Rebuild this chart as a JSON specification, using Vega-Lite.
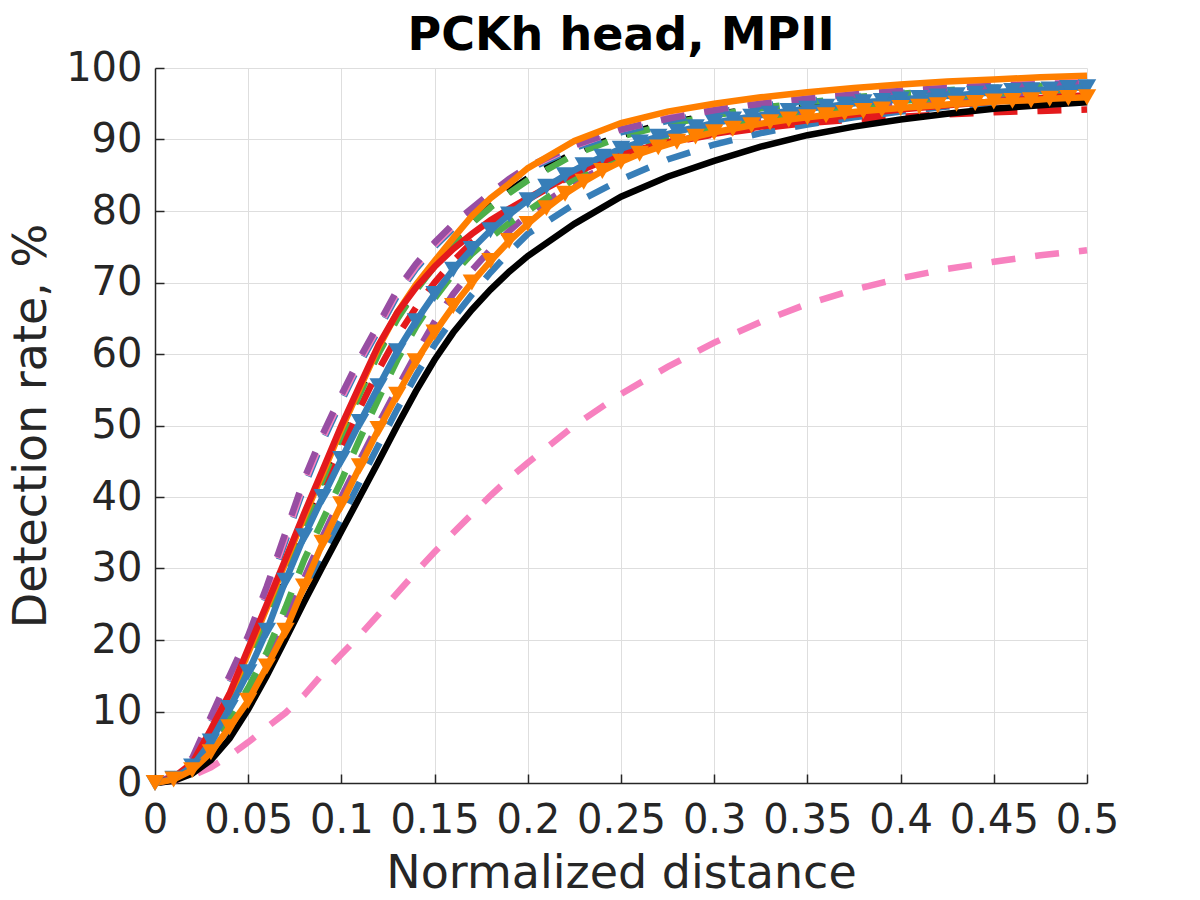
{
  "$schema": "https://vega.github.io/schema/vega-lite/v6.json",
  "width": 932,
  "height": 715,
  "autosize": {"type": "none"},
  "padding": {"left": 155, "top": 68, "right": 113, "bottom": 117},
  "background": "white",
  "title": {
    "text": "PCKh head, MPII",
    "font": "DejaVu Sans",
    "fontSize": 46,
    "fontWeight": "bold",
    "color": "#000000",
    "anchor": "middle",
    "offset": -12
  },
  "datasets": {
    "curves": [
      {"s":"pk2","x":0,"y":0},{"s":"pk2","x":0.01,"y":0.3},{"s":"pk2","x":0.02,"y":1.0},{"s":"pk2","x":0.03,"y":2.2},{"s":"pk2","x":0.04,"y":3.8},{"s":"pk2","x":0.05,"y":5.7},{"s":"pk2","x":0.06,"y":7.8},{"s":"pk2","x":0.07,"y":9.8},{"s":"pk2","x":0.08,"y":12.3},{"s":"pk2","x":0.09,"y":15.3},{"s":"pk2","x":0.1,"y":18},{"s":"pk2","x":0.11,"y":20.7},{"s":"pk2","x":0.12,"y":23.6},{"s":"pk2","x":0.13,"y":26.6},{"s":"pk2","x":0.14,"y":29.5},{"s":"pk2","x":0.15,"y":32.3},{"s":"pk2","x":0.16,"y":35},{"s":"pk2","x":0.17,"y":37.6},{"s":"pk2","x":0.18,"y":40.2},{"s":"pk2","x":0.19,"y":42.6},{"s":"pk2","x":0.2,"y":44.8},{"s":"pk2","x":0.225,"y":50},{"s":"pk2","x":0.25,"y":54.4},{"s":"pk2","x":0.275,"y":58.2},{"s":"pk2","x":0.3,"y":61.6},{"s":"pk2","x":0.325,"y":64.5},{"s":"pk2","x":0.35,"y":67},{"s":"pk2","x":0.375,"y":69},{"s":"pk2","x":0.4,"y":70.6},{"s":"pk2","x":0.425,"y":71.9},{"s":"pk2","x":0.45,"y":72.9},{"s":"pk2","x":0.475,"y":73.8},{"s":"pk2","x":0.5,"y":74.5},

      {"s":"r2","x":0,"y":0},{"s":"r2","x":0.01,"y":0.7},{"s":"r2","x":0.02,"y":2.5},{"s":"r2","x":0.03,"y":6.5},{"s":"r2","x":0.04,"y":11.3},{"s":"r2","x":0.05,"y":17},{"s":"r2","x":0.06,"y":23},{"s":"r2","x":0.07,"y":29.5},{"s":"r2","x":0.08,"y":35.8},{"s":"r2","x":0.09,"y":41.6},{"s":"r2","x":0.1,"y":47},{"s":"r2","x":0.11,"y":52.5},{"s":"r2","x":0.12,"y":57.8},{"s":"r2","x":0.13,"y":62.5},{"s":"r2","x":0.14,"y":66.5},{"s":"r2","x":0.15,"y":70},{"s":"r2","x":0.16,"y":73},{"s":"r2","x":0.17,"y":75.6},{"s":"r2","x":0.18,"y":77.9},{"s":"r2","x":0.19,"y":79.9},{"s":"r2","x":0.2,"y":81.6},{"s":"r2","x":0.225,"y":85.2},{"s":"r2","x":0.25,"y":87.8},{"s":"r2","x":0.275,"y":89.5},{"s":"r2","x":0.3,"y":90.7},{"s":"r2","x":0.325,"y":91.6},{"s":"r2","x":0.35,"y":92.3},{"s":"r2","x":0.375,"y":92.8},{"s":"r2","x":0.4,"y":93.2},{"s":"r2","x":0.425,"y":93.5},{"s":"r2","x":0.45,"y":93.8},{"s":"r2","x":0.475,"y":94.0},{"s":"r2","x":0.5,"y":94.2},

      {"s":"b3","x":0,"y":0},{"s":"b3","x":0.01,"y":0.4},{"s":"b3","x":0.02,"y":1.6},{"s":"b3","x":0.03,"y":3.8},{"s":"b3","x":0.04,"y":7.0},{"s":"b3","x":0.05,"y":11.0},{"s":"b3","x":0.06,"y":15.8},{"s":"b3","x":0.07,"y":21},{"s":"b3","x":0.08,"y":26.5},{"s":"b3","x":0.09,"y":31.8},{"s":"b3","x":0.1,"y":37},{"s":"b3","x":0.11,"y":42.2},{"s":"b3","x":0.12,"y":47.3},{"s":"b3","x":0.13,"y":52.3},{"s":"b3","x":0.14,"y":57},{"s":"b3","x":0.15,"y":61.3},{"s":"b3","x":0.16,"y":65},{"s":"b3","x":0.17,"y":68.3},{"s":"b3","x":0.18,"y":71.4},{"s":"b3","x":0.19,"y":74.2},{"s":"b3","x":0.2,"y":76.8},{"s":"b3","x":0.225,"y":81.0},{"s":"b3","x":0.25,"y":84.4},{"s":"b3","x":0.275,"y":87.2},{"s":"b3","x":0.3,"y":89.3},{"s":"b3","x":0.325,"y":90.9},{"s":"b3","x":0.35,"y":92.1},{"s":"b3","x":0.375,"y":93.1},{"s":"b3","x":0.4,"y":93.9},{"s":"b3","x":0.425,"y":94.6},{"s":"b3","x":0.45,"y":95.1},{"s":"b3","x":0.475,"y":95.6},{"s":"b3","x":0.5,"y":96.0},

      {"s":"p3","x":0,"y":0},{"s":"p3","x":0.01,"y":0.5},{"s":"p3","x":0.02,"y":1.9},{"s":"p3","x":0.03,"y":4.6},{"s":"p3","x":0.04,"y":8.2},{"s":"p3","x":0.05,"y":12.3},{"s":"p3","x":0.06,"y":17.2},{"s":"p3","x":0.07,"y":22.6},{"s":"p3","x":0.08,"y":28.6},{"s":"p3","x":0.09,"y":34.5},{"s":"p3","x":0.1,"y":40},{"s":"p3","x":0.11,"y":45.2},{"s":"p3","x":0.12,"y":50.3},{"s":"p3","x":0.13,"y":55.2},{"s":"p3","x":0.14,"y":60},{"s":"p3","x":0.15,"y":64.5},{"s":"p3","x":0.16,"y":68.4},{"s":"p3","x":0.17,"y":71.7},{"s":"p3","x":0.18,"y":74.6},{"s":"p3","x":0.19,"y":77.2},{"s":"p3","x":0.2,"y":79.5},{"s":"p3","x":0.225,"y":84.0},{"s":"p3","x":0.25,"y":87.3},{"s":"p3","x":0.275,"y":89.6},{"s":"p3","x":0.3,"y":91.3},{"s":"p3","x":0.325,"y":92.6},{"s":"p3","x":0.35,"y":93.6},{"s":"p3","x":0.375,"y":94.4},{"s":"p3","x":0.4,"y":95.1},{"s":"p3","x":0.425,"y":95.6},{"s":"p3","x":0.45,"y":96.0},{"s":"p3","x":0.475,"y":96.4},{"s":"p3","x":0.5,"y":96.7},

      {"s":"g2","x":0,"y":0},{"s":"g2","x":0.01,"y":0.5},{"s":"g2","x":0.02,"y":2},{"s":"g2","x":0.03,"y":5},{"s":"g2","x":0.04,"y":8.8},{"s":"g2","x":0.05,"y":13.3},{"s":"g2","x":0.06,"y":18.3},{"s":"g2","x":0.07,"y":24.5},{"s":"g2","x":0.08,"y":31.2},{"s":"g2","x":0.09,"y":36.8},{"s":"g2","x":0.1,"y":42.3},{"s":"g2","x":0.11,"y":48.2},{"s":"g2","x":0.12,"y":53.8},{"s":"g2","x":0.13,"y":59.2},{"s":"g2","x":0.14,"y":63.8},{"s":"g2","x":0.15,"y":67.8},{"s":"g2","x":0.16,"y":71.2},{"s":"g2","x":0.17,"y":74},{"s":"g2","x":0.18,"y":76.3},{"s":"g2","x":0.19,"y":78.3},{"s":"g2","x":0.2,"y":80.0},{"s":"g2","x":0.225,"y":84.5},{"s":"g2","x":0.25,"y":87.8},{"s":"g2","x":0.275,"y":90.0},{"s":"g2","x":0.3,"y":91.6},{"s":"g2","x":0.325,"y":92.9},{"s":"g2","x":0.35,"y":93.9},{"s":"g2","x":0.375,"y":94.7},{"s":"g2","x":0.4,"y":95.4},{"s":"g2","x":0.425,"y":95.9},{"s":"g2","x":0.45,"y":96.4},{"s":"g2","x":0.475,"y":96.8},{"s":"g2","x":0.5,"y":97.1},

      {"s":"k2","x":0,"y":0},{"s":"k2","x":0.01,"y":0.6},{"s":"k2","x":0.02,"y":2.3},{"s":"k2","x":0.03,"y":6.5},{"s":"k2","x":0.04,"y":11.5},{"s":"k2","x":0.05,"y":17.6},{"s":"k2","x":0.06,"y":24},{"s":"k2","x":0.07,"y":30.3},{"s":"k2","x":0.08,"y":36.7},{"s":"k2","x":0.09,"y":42.8},{"s":"k2","x":0.1,"y":49},{"s":"k2","x":0.11,"y":54.8},{"s":"k2","x":0.12,"y":60.4},{"s":"k2","x":0.13,"y":65.2},{"s":"k2","x":0.14,"y":69.2},{"s":"k2","x":0.15,"y":72.6},{"s":"k2","x":0.16,"y":75.8},{"s":"k2","x":0.17,"y":78.6},{"s":"k2","x":0.18,"y":80.8},{"s":"k2","x":0.19,"y":82.8},{"s":"k2","x":0.2,"y":84.6},{"s":"k2","x":0.225,"y":88.2},{"s":"k2","x":0.25,"y":90.6},{"s":"k2","x":0.275,"y":92.3},{"s":"k2","x":0.3,"y":93.5},{"s":"k2","x":0.325,"y":94.4},{"s":"k2","x":0.35,"y":95.1},{"s":"k2","x":0.375,"y":95.7},{"s":"k2","x":0.4,"y":96.2},{"s":"k2","x":0.425,"y":96.6},{"s":"k2","x":0.45,"y":96.9},{"s":"k2","x":0.475,"y":97.2},{"s":"k2","x":0.5,"y":97.4},

      {"s":"g1","x":0,"y":0},{"s":"g1","x":0.01,"y":0.5},{"s":"g1","x":0.02,"y":2.2},{"s":"g1","x":0.03,"y":6.3},{"s":"g1","x":0.04,"y":11.2},{"s":"g1","x":0.05,"y":17.3},{"s":"g1","x":0.06,"y":23.7},{"s":"g1","x":0.07,"y":30},{"s":"g1","x":0.08,"y":36.4},{"s":"g1","x":0.09,"y":42.5},{"s":"g1","x":0.1,"y":48.7},{"s":"g1","x":0.11,"y":54.5},{"s":"g1","x":0.12,"y":60.1},{"s":"g1","x":0.13,"y":64.9},{"s":"g1","x":0.14,"y":68.9},{"s":"g1","x":0.15,"y":72.3},{"s":"g1","x":0.16,"y":75.5},{"s":"g1","x":0.17,"y":78.3},{"s":"g1","x":0.18,"y":80.5},{"s":"g1","x":0.19,"y":82.5},{"s":"g1","x":0.2,"y":84.3},{"s":"g1","x":0.225,"y":87.9},{"s":"g1","x":0.25,"y":90.4},{"s":"g1","x":0.275,"y":92.1},{"s":"g1","x":0.3,"y":93.4},{"s":"g1","x":0.325,"y":94.4},{"s":"g1","x":0.35,"y":95.2},{"s":"g1","x":0.375,"y":95.9},{"s":"g1","x":0.4,"y":96.4},{"s":"g1","x":0.425,"y":96.9},{"s":"g1","x":0.45,"y":97.2},{"s":"g1","x":0.475,"y":97.5},{"s":"g1","x":0.5,"y":97.7},

      {"s":"b2","x":0,"y":0},{"s":"b2","x":0.01,"y":0.8},{"s":"b2","x":0.02,"y":3.0},{"s":"b2","x":0.03,"y":8.4},{"s":"b2","x":0.04,"y":14},{"s":"b2","x":0.05,"y":19.6},{"s":"b2","x":0.06,"y":26.4},{"s":"b2","x":0.07,"y":33.9},{"s":"b2","x":0.08,"y":41.4},{"s":"b2","x":0.09,"y":47.8},{"s":"b2","x":0.1,"y":53.4},{"s":"b2","x":0.11,"y":58.7},{"s":"b2","x":0.12,"y":63.4},{"s":"b2","x":0.13,"y":68.2},{"s":"b2","x":0.14,"y":71.9},{"s":"b2","x":0.15,"y":75},{"s":"b2","x":0.16,"y":77.6},{"s":"b2","x":0.17,"y":79.9},{"s":"b2","x":0.18,"y":82.0},{"s":"b2","x":0.19,"y":84.0},{"s":"b2","x":0.2,"y":85.8},{"s":"b2","x":0.225,"y":88.8},{"s":"b2","x":0.25,"y":91.0},{"s":"b2","x":0.275,"y":92.6},{"s":"b2","x":0.3,"y":93.8},{"s":"b2","x":0.325,"y":94.7},{"s":"b2","x":0.35,"y":95.4},{"s":"b2","x":0.375,"y":96.0},{"s":"b2","x":0.4,"y":96.5},{"s":"b2","x":0.425,"y":96.9},{"s":"b2","x":0.45,"y":97.2},{"s":"b2","x":0.475,"y":97.4},{"s":"b2","x":0.5,"y":97.6},

      {"s":"pk1","x":0,"y":0},{"s":"pk1","x":0.01,"y":0.9},{"s":"pk1","x":0.02,"y":3.2},{"s":"pk1","x":0.03,"y":8.8},{"s":"pk1","x":0.04,"y":14.4},{"s":"pk1","x":0.05,"y":20},{"s":"pk1","x":0.06,"y":26.9},{"s":"pk1","x":0.07,"y":34.4},{"s":"pk1","x":0.08,"y":41.9},{"s":"pk1","x":0.09,"y":48.3},{"s":"pk1","x":0.1,"y":53.8},{"s":"pk1","x":0.11,"y":59.1},{"s":"pk1","x":0.12,"y":63.8},{"s":"pk1","x":0.13,"y":68.6},{"s":"pk1","x":0.14,"y":72.2},{"s":"pk1","x":0.15,"y":75.3},{"s":"pk1","x":0.16,"y":77.9},{"s":"pk1","x":0.17,"y":80.2},{"s":"pk1","x":0.18,"y":82.3},{"s":"pk1","x":0.19,"y":84.3},{"s":"pk1","x":0.2,"y":86.0},{"s":"pk1","x":0.225,"y":89.1},{"s":"pk1","x":0.25,"y":91.4},{"s":"pk1","x":0.275,"y":93.0},{"s":"pk1","x":0.3,"y":94.2},{"s":"pk1","x":0.325,"y":95.1},{"s":"pk1","x":0.35,"y":95.8},{"s":"pk1","x":0.375,"y":96.4},{"s":"pk1","x":0.4,"y":96.9},{"s":"pk1","x":0.425,"y":97.3},{"s":"pk1","x":0.45,"y":97.6},{"s":"pk1","x":0.475,"y":97.9},{"s":"pk1","x":0.5,"y":98.1},

      {"s":"p1","x":0,"y":0},{"s":"p1","x":0.01,"y":1.0},{"s":"p1","x":0.02,"y":3.5},{"s":"p1","x":0.03,"y":9.3},{"s":"p1","x":0.04,"y":15},{"s":"p1","x":0.05,"y":20.6},{"s":"p1","x":0.06,"y":27.5},{"s":"p1","x":0.07,"y":35},{"s":"p1","x":0.08,"y":42.5},{"s":"p1","x":0.09,"y":48.8},{"s":"p1","x":0.1,"y":54.3},{"s":"p1","x":0.11,"y":59.5},{"s":"p1","x":0.12,"y":64.2},{"s":"p1","x":0.13,"y":69},{"s":"p1","x":0.14,"y":72.6},{"s":"p1","x":0.15,"y":75.6},{"s":"p1","x":0.16,"y":78.2},{"s":"p1","x":0.17,"y":80.4},{"s":"p1","x":0.18,"y":82.5},{"s":"p1","x":0.19,"y":84.5},{"s":"p1","x":0.2,"y":86.2},{"s":"p1","x":0.225,"y":89.2},{"s":"p1","x":0.25,"y":91.4},{"s":"p1","x":0.275,"y":92.9},{"s":"p1","x":0.3,"y":94.1},{"s":"p1","x":0.325,"y":95.0},{"s":"p1","x":0.35,"y":95.7},{"s":"p1","x":0.375,"y":96.3},{"s":"p1","x":0.4,"y":96.8},{"s":"p1","x":0.425,"y":97.2},{"s":"p1","x":0.45,"y":97.5},{"s":"p1","x":0.475,"y":97.7},{"s":"p1","x":0.5,"y":97.9},

      {"s":"k","x":0,"y":0},{"s":"k","x":0.01,"y":0.3},{"s":"k","x":0.02,"y":1.3},{"s":"k","x":0.03,"y":3.2},{"s":"k","x":0.04,"y":6.2},{"s":"k","x":0.05,"y":10.3},{"s":"k","x":0.06,"y":15},{"s":"k","x":0.07,"y":20.1},{"s":"k","x":0.08,"y":25.3},{"s":"k","x":0.09,"y":30.3},{"s":"k","x":0.1,"y":35.2},{"s":"k","x":0.11,"y":40.1},{"s":"k","x":0.12,"y":45.0},{"s":"k","x":0.13,"y":50.0},{"s":"k","x":0.14,"y":54.8},{"s":"k","x":0.15,"y":59.2},{"s":"k","x":0.16,"y":63.0},{"s":"k","x":0.17,"y":66.2},{"s":"k","x":0.18,"y":69.0},{"s":"k","x":0.19,"y":71.5},{"s":"k","x":0.2,"y":73.7},{"s":"k","x":0.225,"y":78.2},{"s":"k","x":0.25,"y":82.0},{"s":"k","x":0.275,"y":84.8},{"s":"k","x":0.3,"y":87.0},{"s":"k","x":0.325,"y":89.0},{"s":"k","x":0.35,"y":90.6},{"s":"k","x":0.375,"y":91.8},{"s":"k","x":0.4,"y":92.8},{"s":"k","x":0.425,"y":93.6},{"s":"k","x":0.45,"y":94.3},{"s":"k","x":0.475,"y":94.8},{"s":"k","x":0.5,"y":95.2},

      {"s":"o1","x":0,"y":0},{"s":"o1","x":0.01,"y":0.7},{"s":"o1","x":0.02,"y":2.5},{"s":"o1","x":0.03,"y":7},{"s":"o1","x":0.04,"y":12},{"s":"o1","x":0.05,"y":18.2},{"s":"o1","x":0.06,"y":24.5},{"s":"o1","x":0.07,"y":30.8},{"s":"o1","x":0.08,"y":37.2},{"s":"o1","x":0.09,"y":43.3},{"s":"o1","x":0.1,"y":49.5},{"s":"o1","x":0.11,"y":55.3},{"s":"o1","x":0.12,"y":61},{"s":"o1","x":0.13,"y":65.8},{"s":"o1","x":0.14,"y":69.7},{"s":"o1","x":0.15,"y":73},{"s":"o1","x":0.16,"y":76.2},{"s":"o1","x":0.17,"y":79.3},{"s":"o1","x":0.18,"y":81.8},{"s":"o1","x":0.19,"y":83.8},{"s":"o1","x":0.2,"y":86.0},{"s":"o1","x":0.225,"y":89.8},{"s":"o1","x":0.25,"y":92.3},{"s":"o1","x":0.275,"y":93.9},{"s":"o1","x":0.3,"y":95.0},{"s":"o1","x":0.325,"y":95.9},{"s":"o1","x":0.35,"y":96.6},{"s":"o1","x":0.375,"y":97.2},{"s":"o1","x":0.4,"y":97.7},{"s":"o1","x":0.425,"y":98.1},{"s":"o1","x":0.45,"y":98.4},{"s":"o1","x":0.475,"y":98.7},{"s":"o1","x":0.5,"y":98.9},

      {"s":"r1","x":0,"y":0},{"s":"r1","x":0.01,"y":0.8},{"s":"r1","x":0.02,"y":2.8},{"s":"r1","x":0.03,"y":7.5},{"s":"r1","x":0.04,"y":12.5},{"s":"r1","x":0.05,"y":18.8},{"s":"r1","x":0.06,"y":25},{"s":"r1","x":0.07,"y":31.3},{"s":"r1","x":0.08,"y":37.7},{"s":"r1","x":0.09,"y":43.8},{"s":"r1","x":0.1,"y":50},{"s":"r1","x":0.11,"y":55.7},{"s":"r1","x":0.12,"y":61.3},{"s":"r1","x":0.13,"y":65.8},{"s":"r1","x":0.14,"y":69.3},{"s":"r1","x":0.15,"y":72.2},{"s":"r1","x":0.16,"y":74.7},{"s":"r1","x":0.17,"y":76.8},{"s":"r1","x":0.18,"y":78.7},{"s":"r1","x":0.19,"y":80.3},{"s":"r1","x":0.2,"y":81.8},{"s":"r1","x":0.225,"y":85.3},{"s":"r1","x":0.25,"y":88.0},{"s":"r1","x":0.275,"y":89.6},{"s":"r1","x":0.3,"y":90.8},{"s":"r1","x":0.325,"y":91.8},{"s":"r1","x":0.35,"y":92.7},{"s":"r1","x":0.375,"y":93.5},{"s":"r1","x":0.4,"y":94.2},{"s":"r1","x":0.425,"y":94.8},{"s":"r1","x":0.45,"y":95.3},{"s":"r1","x":0.475,"y":95.8},{"s":"r1","x":0.5,"y":96.2},

      {"s":"bt","x":0,"y":0},{"s":"bt","x":0.01,"y":0.6},{"s":"bt","x":0.02,"y":2.3},{"s":"bt","x":0.03,"y":5.8},{"s":"bt","x":0.04,"y":10.5},{"s":"bt","x":0.05,"y":15.5},{"s":"bt","x":0.06,"y":21.3},{"s":"bt","x":0.07,"y":28.3},{"s":"bt","x":0.08,"y":34.5},{"s":"bt","x":0.09,"y":40},{"s":"bt","x":0.1,"y":45.3},{"s":"bt","x":0.11,"y":50.5},{"s":"bt","x":0.12,"y":55.5},{"s":"bt","x":0.13,"y":60.4},{"s":"bt","x":0.14,"y":64.6},{"s":"bt","x":0.15,"y":68.4},{"s":"bt","x":0.16,"y":71.8},{"s":"bt","x":0.17,"y":74.7},{"s":"bt","x":0.18,"y":77.3},{"s":"bt","x":0.19,"y":79.5},{"s":"bt","x":0.2,"y":81.5},{"s":"bt","x":0.21,"y":83.4},{"s":"bt","x":0.22,"y":85.0},{"s":"bt","x":0.23,"y":86.4},{"s":"bt","x":0.24,"y":87.6},{"s":"bt","x":0.25,"y":88.7},{"s":"bt","x":0.26,"y":89.6},{"s":"bt","x":0.27,"y":90.4},{"s":"bt","x":0.28,"y":91.1},{"s":"bt","x":0.29,"y":91.7},{"s":"bt","x":0.3,"y":92.3},{"s":"bt","x":0.31,"y":92.8},{"s":"bt","x":0.32,"y":93.2},{"s":"bt","x":0.33,"y":93.6},{"s":"bt","x":0.34,"y":94.0},{"s":"bt","x":0.35,"y":94.3},{"s":"bt","x":0.36,"y":94.6},{"s":"bt","x":0.37,"y":94.9},{"s":"bt","x":0.38,"y":95.2},{"s":"bt","x":0.39,"y":95.4},{"s":"bt","x":0.4,"y":95.6},{"s":"bt","x":0.41,"y":95.8},{"s":"bt","x":0.42,"y":96.0},{"s":"bt","x":0.43,"y":96.2},{"s":"bt","x":0.44,"y":96.4},{"s":"bt","x":0.45,"y":96.6},{"s":"bt","x":0.46,"y":96.8},{"s":"bt","x":0.47,"y":96.9},{"s":"bt","x":0.48,"y":97.0},{"s":"bt","x":0.49,"y":97.2},{"s":"bt","x":0.5,"y":97.3},

      {"s":"ot","x":0,"y":0},{"s":"ot","x":0.01,"y":0.5},{"s":"ot","x":0.02,"y":1.8},{"s":"ot","x":0.03,"y":4.3},{"s":"ot","x":0.04,"y":7.8},{"s":"ot","x":0.05,"y":11.5},{"s":"ot","x":0.06,"y":16.3},{"s":"ot","x":0.07,"y":21.3},{"s":"ot","x":0.08,"y":27.5},{"s":"ot","x":0.09,"y":33.6},{"s":"ot","x":0.1,"y":39.0},{"s":"ot","x":0.11,"y":44.3},{"s":"ot","x":0.12,"y":49.5},{"s":"ot","x":0.13,"y":54.3},{"s":"ot","x":0.14,"y":59.0},{"s":"ot","x":0.15,"y":63.0},{"s":"ot","x":0.16,"y":66.7},{"s":"ot","x":0.17,"y":70.0},{"s":"ot","x":0.18,"y":73.0},{"s":"ot","x":0.19,"y":75.8},{"s":"ot","x":0.2,"y":78.2},{"s":"ot","x":0.21,"y":80.4},{"s":"ot","x":0.22,"y":82.4},{"s":"ot","x":0.23,"y":84.1},{"s":"ot","x":0.24,"y":85.6},{"s":"ot","x":0.25,"y":86.9},{"s":"ot","x":0.26,"y":88.0},{"s":"ot","x":0.27,"y":88.9},{"s":"ot","x":0.28,"y":89.7},{"s":"ot","x":0.29,"y":90.4},{"s":"ot","x":0.3,"y":91.0},{"s":"ot","x":0.31,"y":91.5},{"s":"ot","x":0.32,"y":92.0},{"s":"ot","x":0.33,"y":92.4},{"s":"ot","x":0.34,"y":92.8},{"s":"ot","x":0.35,"y":93.1},{"s":"ot","x":0.36,"y":93.4},{"s":"ot","x":0.37,"y":93.7},{"s":"ot","x":0.38,"y":94.0},{"s":"ot","x":0.39,"y":94.2},{"s":"ot","x":0.4,"y":94.4},{"s":"ot","x":0.41,"y":94.6},{"s":"ot","x":0.42,"y":94.8},{"s":"ot","x":0.43,"y":95.0},{"s":"ot","x":0.44,"y":95.1},{"s":"ot","x":0.45,"y":95.3},{"s":"ot","x":0.46,"y":95.4},{"s":"ot","x":0.47,"y":95.5},{"s":"ot","x":0.48,"y":95.7},{"s":"ot","x":0.49,"y":95.8},{"s":"ot","x":0.5,"y":95.9}
    ]
  },
  "data": {"name": "curves"},
  "encoding": {
    "x": {
      "field": "x",
      "type": "quantitative",
      "title": "Normalized distance",
      "scale": {"domain": [0, 0.5], "nice": false},
      "axis": {
        "values": [0, 0.05, 0.1, 0.15, 0.2, 0.25, 0.3, 0.35, 0.4, 0.45, 0.5],
        "format": "~g",
        "labelPadding": 26,
        "titlePadding": 11
      }
    },
    "y": {
      "field": "y",
      "type": "quantitative",
      "title": "Detection rate, %",
      "scale": {"domain": [0, 100], "nice": false},
      "axis": {
        "values": [0, 10, 20, 30, 40, 50, 60, 70, 80, 90, 100],
        "labelPadding": 22,
        "titlePadding": 10
      }
    },
    "color": {
      "field": "s",
      "type": "nominal",
      "legend": null,
      "scale": {
        "domain": ["pk2", "r2", "b3", "p3", "g2", "k2", "g1", "b2", "pk1", "p1", "k", "o1", "r1", "bt", "ot"],
        "range": ["#f781bf", "#e41a1c", "#377eb8", "#984ea3", "#4daf4a", "#000000", "#4daf4a", "#377eb8", "#f781bf", "#984ea3", "#000000", "#ff7f00", "#e41a1c", "#377eb8", "#ff7f00"]
      }
    }
  },
  "layer": [
    {
      "transform": [{"filter": {"field": "s", "oneOf": ["pk2", "r2", "b3", "p3", "g2", "k2", "g1", "b2", "pk1", "p1"]}}],
      "mark": {"type": "line", "strokeWidth": 6.5, "strokeDash": [24, 20], "strokeCap": "butt"}
    },
    {
      "transform": [{"filter": {"field": "s", "oneOf": ["k", "o1", "r1"]}}],
      "mark": {"type": "line", "strokeWidth": 6.5}
    },
    {
      "transform": [{"filter": {"field": "s", "oneOf": ["bt", "ot"]}}],
      "mark": {
        "type": "line",
        "strokeWidth": 6.5,
        "point": {"filled": true, "shape": "triangle-down", "size": 340, "opacity": 1}
      }
    }
  ],
  "config": {
    "view": {"stroke": null},
    "axis": {
      "labelFont": "DejaVu Sans",
      "titleFont": "DejaVu Sans",
      "labelFontSize": 40,
      "titleFontSize": 46,
      "titleFontWeight": "normal",
      "labelColor": "#262626",
      "titleColor": "#262626",
      "domainColor": "#262626",
      "domainWidth": 1.5,
      "tickColor": "#262626",
      "tickWidth": 1.5,
      "tickSize": -9,
      "gridColor": "#dedede",
      "gridWidth": 1,
      "labelOverlap": false,
      "labelFlush": false
    }
  }
}
